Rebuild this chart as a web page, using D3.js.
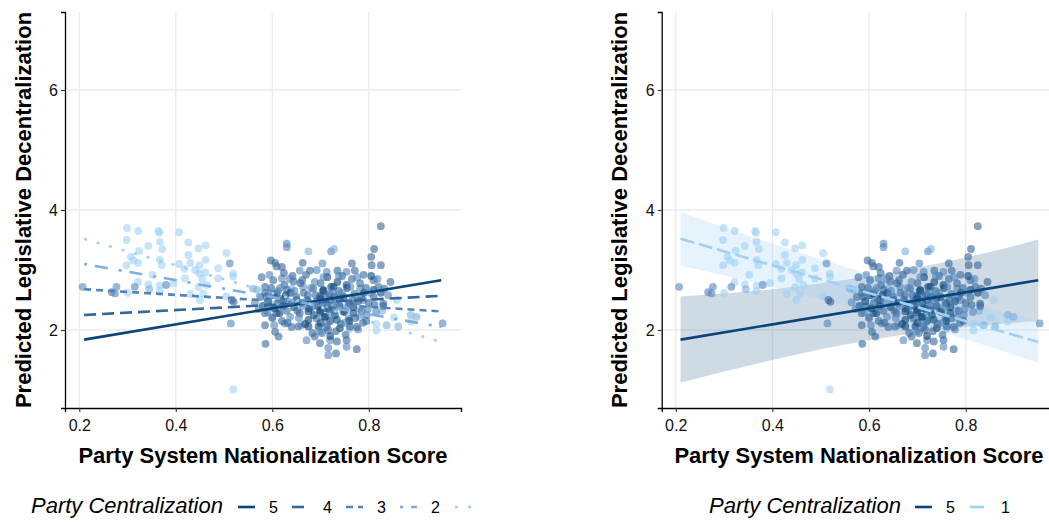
<!DOCTYPE html>
<html>
<head>
<meta charset="utf-8">
<script src="https://cdn.jsdelivr.net/npm/d3@7"></script>
<style>
  body { margin: 0; background: #fff; }
  svg { font-family: "Liberation Sans", Arial, sans-serif; display: block; }
</style>
</head>
<body>
<svg id="chart" width="1049" height="523"></svg>
<script>
// fitted lines per party centralization level (x = 0.21 .. 0.95)
const lineCats = [5, 4, 3, 2, 1];
const lineX = [0.21, 0.95];
const lineStart = [1.84, 2.25, 2.68, 3.10, 3.52];
const lineEnd = [2.83, 2.57, 2.31, 2.05, 1.80];

// confidence ribbons for levels 5 and 1 (right panel)
const ribbonX = [0.21, 0.3, 0.4, 0.5, 0.6, 0.7, 0.8, 0.9, 0.95];
const rib5Lo = [1.12, 1.31, 1.50, 1.68, 1.83, 1.96, 2.05, 2.12, 2.15];
const rib5Hi = [2.56, 2.61, 2.68, 2.78, 2.89, 3.04, 3.21, 3.40, 3.51];
const rib1Lo = [3.07, 2.91, 2.72, 2.52, 2.31, 2.08, 1.84, 1.59, 1.45];
const rib1Hi = [3.97, 3.71, 3.44, 3.18, 2.93, 2.68, 2.46, 2.25, 2.15];

const xTicks = [0.2, 0.4, 0.6, 0.8];
const yTicks = [2, 4, 6];

// observations: [nationalization, predicted decentralization, centralization]
const points = [
  [0.299,3.70,1],[0.322,3.65,1],[0.364,3.65,1],[0.366,3.62,1],[0.407,3.63,1],[0.298,3.50,1],[0.367,3.47,1],
  [0.343,3.40,1],[0.426,3.46,1],[0.462,3.41,1],[0.447,3.36,1],[0.324,3.32,1],[0.307,3.22,1],[0.322,3.12,1],
  [0.298,3.08,1],[0.367,3.17,1],[0.371,3.08,1],[0.407,3.10,1],[0.426,3.25,1],[0.430,3.12,1],[0.418,3.02,1],
  [0.462,3.17,1],[0.449,3.08,1],[0.461,2.96,1],[0.449,2.94,1],[0.488,3.03,1],[0.505,3.28,1],[0.519,2.94,1],
  [0.519,2.89,1],[0.488,2.86,1],[0.419,2.86,1],[0.343,2.76,1],[0.367,2.74,1],[0.322,2.80,1],[0.464,2.75,1],
  [0.447,2.72,1],[0.430,2.60,1],[0.450,2.50,1],[0.457,2.61,1],[0.505,2.56,1],[0.367,2.65,1],[0.519,1.01,1],
  [0.312,3.16,1],[0.440,3.00,1],[0.455,2.85,1],[0.372,3.35,1],[0.352,2.92,1],[0.300,2.62,1],[0.395,2.78,1],
  [0.207,2.72,3],[0.277,2.72,3],[0.267,2.63,3],[0.274,2.61,3],[0.315,2.72,3],[0.380,2.75,3],[0.514,2.11,3],
  [0.512,3.11,3],[0.953,2.11,3],[0.345,2.68,2],[0.564,2.46,3],[0.516,2.50,4],[0.520,2.47,4],
  [0.816,2.10,1],[0.816,1.99,1],[0.837,2.08,2],[0.852,2.21,1],[0.861,2.06,2],[0.887,2.25,2],[0.887,2.14,1],
  [0.899,2.22,2],[0.858,2.50,1],[0.828,2.32,2],[0.780,2.35,2],[0.640,2.69,2],[0.560,2.69,2],[0.600,2.22,2],
  [0.660,2.08,2],[0.760,2.02,2],
  [0.825,3.73,4],[0.630,3.44,3],[0.630,3.38,3],[0.675,3.31,2],[0.722,3.31,3],[0.728,3.35,2],[0.811,3.35,4],
  [0.597,3.16,4],[0.606,3.12,4],[0.663,3.12,4],[0.704,3.11,3],[0.765,3.11,4],[0.805,3.22,4],[0.825,3.08,4],
  [0.806,3.08,4],[0.789,2.92,4],[0.771,2.99,4],[0.754,2.97,3],[0.735,2.99,4],[0.713,2.97,3],[0.692,3.00,3],
  [0.678,2.99,4],[0.657,2.99,3],[0.644,2.81,4],[0.620,2.86,3],[0.602,2.83,4],[0.585,2.72,4],[0.568,2.67,2],
  [0.810,2.83,4],[0.810,2.67,5],[0.832,2.69,4],[0.782,2.69,3],[0.754,2.75,5],[0.727,2.72,5],[0.706,2.67,5],
  [0.685,2.69,4],[0.664,2.72,3],[0.630,2.67,4],[0.609,2.61,5],[0.588,2.56,4],[0.595,2.39,4],[0.623,2.50,5],
  [0.650,2.50,4],[0.675,2.47,3],[0.699,2.56,5],[0.720,2.50,4],[0.740,2.53,5],[0.761,2.44,4],[0.789,2.50,3],
  [0.830,2.44,4],[0.675,2.31,5],[0.699,2.33,5],[0.713,2.36,4],[0.727,2.33,5],[0.747,2.31,4],[0.768,2.28,5],
  [0.796,2.25,3],[0.585,2.28,4],[0.609,2.28,4],[0.637,2.22,3],[0.657,2.28,4],[0.675,2.17,5],[0.692,2.19,4],
  [0.710,2.22,5],[0.734,2.17,5],[0.758,2.19,4],[0.782,2.22,3],[0.585,2.08,4],[0.626,2.11,3],[0.654,2.06,4],
  [0.675,2.06,5],[0.696,2.06,5],[0.716,2.00,4],[0.740,2.03,5],[0.761,2.06,4],[0.778,2.01,3],[0.606,1.97,4],
  [0.613,1.89,4],[0.586,1.77,4],[0.671,1.83,3],[0.688,1.89,4],[0.699,1.78,4],[0.720,1.83,3],[0.734,1.81,4],
  [0.716,1.70,3],[0.716,1.58,3],[0.732,1.61,4],[0.754,1.83,4],[0.775,1.68,4],[0.754,1.72,3],[0.609,3.06,4],
  [0.620,3.05,4],
  [0.575,2.55,4],[0.580,2.40,5],[0.585,2.62,4],[0.590,2.30,3],[0.592,2.48,5],[0.598,2.70,4],[0.600,2.20,4],
  [0.603,2.58,5],[0.605,2.36,5],[0.610,2.45,4],[0.612,2.65,3],[0.615,2.28,5],[0.618,2.52,4],[0.620,2.15,4],
  [0.622,2.40,5],[0.625,2.75,4],[0.628,2.58,5],[0.630,2.32,4],[0.635,2.47,3],[0.638,2.62,5],[0.640,2.05,4],
  [0.642,2.90,4],[0.645,2.38,5],[0.650,2.55,4],[0.655,2.20,3],[0.660,2.45,5],[0.662,2.83,4],[0.665,2.62,4],
  [0.668,2.10,5],[0.672,2.50,4],[0.676,2.36,5],[0.680,2.70,3],[0.683,1.95,4],[0.686,2.25,5],[0.690,2.58,4],
  [0.695,2.40,5],[0.700,2.12,5],[0.700,2.30,5],[0.700,2.52,5],[0.700,2.78,4],[0.703,1.95,4],[0.705,2.65,5],
  [0.708,2.22,5],[0.710,2.45,5],[0.712,2.05,4],[0.714,2.88,5],[0.716,2.35,5],[0.718,2.60,4],[0.720,1.90,5],
  [0.720,2.15,5],[0.722,2.72,5],[0.725,2.42,4],[0.728,2.55,5],[0.730,2.25,5],[0.732,1.98,4],[0.735,2.80,5],
  [0.738,2.65,4],[0.740,2.40,5],[0.742,2.10,4],[0.745,2.90,4],[0.748,2.55,5],[0.750,2.30,5],[0.752,1.92,4],
  [0.755,2.70,5],[0.758,2.45,4],[0.760,2.15,5],[0.765,2.85,4],[0.768,2.38,5],[0.770,2.60,4],[0.775,2.05,4],
  [0.778,2.48,5],[0.782,2.78,4],[0.785,2.32,4],[0.790,2.62,5],[0.795,2.15,4],[0.800,2.45,4],[0.805,2.90,5],
  [0.810,2.55,4],[0.815,2.30,3],[0.820,2.72,4],[0.825,2.62,5],[0.830,2.40,4],[0.840,2.58,3],[0.845,2.80,4],
  [0.572,2.35,3],[0.578,2.88,4],[0.594,2.92,3],[0.596,2.62,3],[0.604,2.08,3],[0.616,2.70,3],[0.624,2.95,4],
  [0.632,2.12,4],[0.636,2.85,3],[0.646,2.65,3],[0.652,2.32,4],[0.658,2.78,4],[0.664,2.40,3],[0.670,2.92,4],
  [0.674,2.58,4],[0.682,2.38,4],[0.688,2.80,3],[0.692,2.48,4],[0.698,1.98,3],[0.706,2.88,3],[0.710,2.58,4],
  [0.714,2.10,3],[0.722,2.28,3],[0.726,2.62,3],[0.734,2.48,3],[0.738,2.90,3],[0.744,2.62,3],[0.750,2.12,3],
  [0.756,2.38,3],[0.762,2.72,3],[0.766,2.50,4],[0.772,2.20,4],[0.776,2.88,3],[0.784,2.55,4],[0.788,2.12,4],
  [0.794,2.70,4],[0.798,2.35,3],[0.804,2.62,3],[0.812,2.42,4],[0.818,2.85,3]
];

// look
const colour = { 5: "#08457a", 4: "#33679d", 3: "#5284ba", 2: "#7aafe0", 1: "#9fd0f5" };
const dashLeft = { 5: null, 4: "12,6", 3: "7,5", 2: "3,8,13,11", 1: "3,10" };
const dashRight = { 5: null, 1: "14,5" };

const svg = d3.select("#chart");

function panel(opt) {
  const x = d3.scaleLinear().domain(opt.xDom).range(opt.xRange);
  const y = d3.scaleLinear().domain([0.7, 7.3]).range([408, 12]);
  const g = svg.append("g");
  const clipId = "clip" + opt.id;
  svg.append("clipPath").attr("id", clipId)
    .append("rect").attr("x", opt.xRange[0]).attr("y", 12)
    .attr("width", opt.xRange[1] - opt.xRange[0]).attr("height", 396);

  // grid
  g.selectAll(".gx").data(xTicks).join("line")
    .attr("x1", x).attr("x2", x).attr("y1", 12).attr("y2", 408)
    .attr("stroke", "#ebebeb").attr("stroke-width", 1.3);
  g.selectAll(".gy").data(yTicks).join("line")
    .attr("x1", opt.xRange[0]).attr("x2", opt.xRange[1]).attr("y1", y).attr("y2", y)
    .attr("stroke", "#ebebeb").attr("stroke-width", 1.3);

  const plot = g.append("g").attr("clip-path", `url(#${clipId})`);

  // ribbons
  const area = d3.area().x((d, i) => x(ribbonX[i])).y0(d => y(d[0])).y1(d => y(d[1]))
    .curve(d3.curveMonotoneX);
  for (const r of opt.ribbons) {
    plot.append("path")
      .datum(r.lo.map((v, i) => [v, r.hi[i]]))
      .attr("d", area).attr("fill", colour[r.cat]).attr("fill-opacity", r.alpha);
  }

  // points
  plot.selectAll("circle").data(points).join("circle")
    .attr("cx", d => x(d[0])).attr("cy", d => y(d[1])).attr("r", 3.9)
    .attr("fill", d => colour[d[2]]).attr("fill-opacity", 0.6);

  // fitted lines
  for (const c of opt.cats) {
    const i = lineCats.indexOf(c);
    plot.append("line")
      .attr("x1", x(lineX[0])).attr("y1", y(lineStart[i]))
      .attr("x2", x(lineX[1])).attr("y2", y(lineEnd[i]))
      .attr("stroke", colour[c]).attr("stroke-width", 2.6)
      .attr("stroke-dasharray", opt.dash[c]);
  }

  // axes
  const ax = g.append("g").attr("transform", "translate(0,408)")
    .call(d3.axisBottom(x).tickValues(xTicks).tickFormat(d3.format(".1f")).tickSizeOuter(0).tickSize(4));
  const ay = g.append("g").attr("transform", `translate(${opt.xRange[0]},0)`)
    .call(d3.axisLeft(y).tickValues(yTicks).tickFormat(d3.format("d")).tickSizeOuter(0).tickSize(4));
  for (const a of [ax, ay]) {
    a.select(".domain").attr("stroke", "#000").attr("stroke-width", 1.3);
    a.selectAll(".tick line").attr("stroke", "#333").attr("stroke-width", 1.1);
    a.selectAll("text").attr("font-size", 16).attr("fill", "#111")
      .attr("font-family", "Liberation Sans, Arial, sans-serif");
  }
  ax.selectAll("text").attr("dy", "1.0em");
  ay.selectAll("text").attr("x", -7);

  // titles
  g.append("text").attr("x", opt.xTitle).attr("y", 463).attr("text-anchor", "middle")
    .attr("font-size", 22).attr("font-weight", "bold").text("Party System Nationalization Score");
  g.append("text").attr("transform", `translate(${opt.yTitle},210) rotate(-90)`)
    .attr("text-anchor", "middle").attr("font-size", 22).attr("font-weight", "bold")
    .text("Predicted Legislative Decentralization");

  // legend
  const lg = svg.append("g");
  lg.append("text").attr("x", opt.legX).attr("y", 513).attr("font-size", 22)
    .attr("font-style", "italic").text("Party Centralization");
  opt.cats.forEach((c, k) => {
    const kx = opt.keyX[k];
    lg.append("line").attr("x1", kx).attr("x2", kx + 17).attr("y1", 507).attr("y2", 507)
      .attr("stroke", colour[c]).attr("stroke-width", 2.6).attr("stroke-dasharray", opt.dash[c]);
    if (kx + 31 < opt.legClip)
      lg.append("text").attr("x", kx + 31).attr("y", 513).attr("font-size", 16).text(c);
  });
}

panel({
  id: "L", xDom: [0.1704, 0.9911], xRange: [65, 461], cats: lineCats, dash: dashLeft,
  ribbons: [], xTitle: 263, yTitle: 31, legX: 31,
  keyX: [238, 292, 346, 400, 455], legClip: 480
});

panel({
  id: "R", xDom: [0.171, 0.988], xRange: [661.7, 1056.6], cats: [5, 1], dash: dashRight,
  ribbons: [
    { cat: 5, lo: rib5Lo, hi: rib5Hi, alpha: 0.2 },
    { cat: 1, lo: rib1Lo, hi: rib1Hi, alpha: 0.25 }
  ],
  xTitle: 859, yTitle: 627, legX: 709,
  keyX: [915, 970], legClip: 1049
});
</script>
</body>
</html>
